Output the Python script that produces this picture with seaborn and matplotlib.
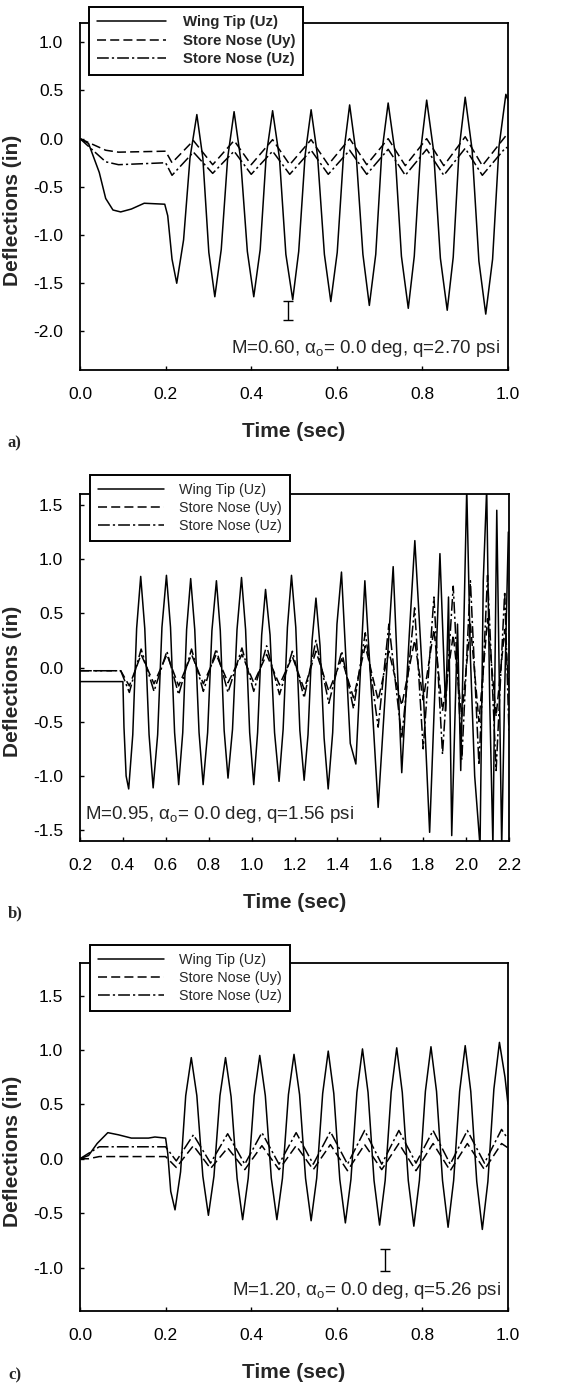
import numpy as np
import pandas as pd
import matplotlib
matplotlib.use("Agg")
import matplotlib.pyplot as plt
import seaborn as sns

sns.set_style("ticks")
plt.rcParams['font.family'] = ['Liberation Sans', 'DejaVu Sans']
plt.rcParams['axes.unicode_minus'] = False
plt.rcParams['lines.scale_dashes'] = False
plt.rcParams['mathtext.fontset'] = 'custom'
plt.rcParams['mathtext.rm'] = 'Liberation Sans'
plt.rcParams['mathtext.it'] = 'Liberation Sans'

# ---------------- panel a: M=0.60 ----------------
a_wing_t = [0.0, 0.02, 0.045, 0.06, 0.077, 0.095, 0.12, 0.15, 0.198, 0.205, 0.215, 0.226,
            0.242, 0.257, 0.273, 0.287, 0.301, 0.315, 0.33, 0.345, 0.36, 0.375, 0.391, 0.406,
            0.421, 0.435, 0.45, 0.466, 0.481, 0.497, 0.511, 0.526, 0.54, 0.555, 0.571, 0.586,
            0.601, 0.616, 0.63, 0.645, 0.661, 0.676, 0.691, 0.705, 0.72, 0.736, 0.751, 0.767,
            0.781, 0.796, 0.81, 0.826, 0.842, 0.858, 0.872, 0.886, 0.90, 0.916, 0.932, 0.948,
            0.964, 0.979, 0.995, 1.0]
a_wing = [0.0, -0.05, -0.35, -0.62, -0.74, -0.76, -0.73, -0.67, -0.68, -0.80, -1.25, -1.50,
          -1.05, -0.20, 0.25, -0.20, -1.18, -1.64, -1.15, -0.20, 0.28, -0.20, -1.17, -1.64,
          -1.15, -0.18, 0.29, -0.20, -1.20, -1.67, -1.17, -0.17, 0.30, -0.18, -1.20, -1.69,
          -1.18, -0.15, 0.35, -0.15, -1.20, -1.73, -1.20, -0.15, 0.37, -0.14, -1.22, -1.76,
          -1.22, -0.12, 0.40, -0.12, -1.24, -1.78, -1.23, -0.10, 0.43, -0.11, -1.27, -1.82,
          -1.25, -0.08, 0.46, 0.40]
a_store_t = [0.0, 0.03, 0.06, 0.09, 0.2, 0.215, 0.265, 0.31, 0.36, 0.40, 0.45, 0.49, 0.54,
             0.58, 0.63, 0.67, 0.72, 0.76, 0.81, 0.85, 0.90, 0.94, 0.995, 1.0]
a_store_uy = [0.0, -0.06, -0.12, -0.14, -0.13, -0.25, -0.02, -0.27, -0.02, -0.27, -0.01,
              -0.27, -0.01, -0.27, 0.0, -0.27, 0.0, -0.28, 0.0, -0.28, 0.02, -0.28, 0.03, 0.02]
a_store_uz = [0.0, -0.12, -0.24, -0.27, -0.25, -0.38, -0.14, -0.36, -0.13, -0.37, -0.13,
              -0.37, -0.12, -0.37, -0.12, -0.37, -0.11, -0.38, -0.11, -0.38, -0.10, -0.38,
              -0.09, -0.10]

# ---------------- panel b: M=0.95 ----------------
b_wing_t = [0.2, 0.40, 0.405, 0.415, 0.427, 0.446, 0.464, 0.483, 0.502, 0.522, 0.541, 0.562,
            0.582, 0.603, 0.622, 0.641, 0.66, 0.679, 0.697, 0.716, 0.735, 0.755, 0.774, 0.795,
            0.815, 0.836, 0.854, 0.872, 0.89, 0.911, 0.932, 0.953, 0.972, 0.991, 1.01, 1.028,
            1.047, 1.065, 1.086, 1.107, 1.128, 1.147, 1.167, 1.186, 1.206, 1.225, 1.245, 1.263,
            1.282, 1.30, 1.319, 1.338, 1.357, 1.378, 1.398, 1.419, 1.46, 1.486, 1.528, 1.59,
            1.66, 1.70, 1.735, 1.761, 1.80, 1.83, 1.878, 1.905, 1.918, 1.933, 1.96, 1.975,
            2.003, 2.02, 2.04, 2.065, 2.08, 2.096, 2.11, 2.125, 2.143, 2.166, 2.18, 2.197]
b_wing = [-0.13, -0.13, -0.55, -1.00, -1.12, -0.62, 0.36, 0.84, 0.36, -0.62, -1.11, -0.62,
          0.37, 0.85, 0.37, -0.60, -1.08, -0.60, 0.35, 0.82, 0.35, -0.60, -1.08, -0.60,
          0.34, 0.80, 0.34, -0.58, -1.02, -0.57, 0.35, 0.83, 0.35, -0.60, -1.08, -0.60,
          0.30, 0.72, 0.30, -0.60, -1.05, -0.57, 0.37, 0.85, 0.37, -0.58, -1.04, -0.62,
          0.25, 0.64, 0.20, -0.65, -1.12, -0.60, 0.40, 0.88, -0.70, -0.89, 0.80, -1.29,
          0.93, -0.97, 0.30, 1.17, -0.20, -1.52, 1.05, -0.40, 0.65, -1.55, 0.40, -0.95,
          1.65, 0.10, -1.00, -1.65, 0.80, 1.65, -0.30, -1.65, 1.45, -1.65, -0.20, 1.25]
b_store_t = [0.2, 0.39, 0.43, 0.485, 0.545, 0.605, 0.66, 0.72, 0.775, 0.835, 0.89, 0.955,
             1.01, 1.07, 1.13, 1.19, 1.245, 1.30, 1.36, 1.42, 1.475, 1.53, 1.59, 1.64, 1.70,
             1.76, 1.80, 1.85, 1.89, 1.94, 1.98, 2.02, 2.06, 2.10, 2.14, 2.18, 2.2]
b_store_uy = [-0.03, -0.03, -0.17, 0.12, -0.15, 0.12, -0.17, 0.12, -0.15, 0.12, -0.14, 0.12,
              -0.14, 0.12, -0.16, 0.10, -0.20, 0.15, -0.22, 0.08, -0.28, 0.20, -0.30, 0.15,
              -0.35, 0.25, -0.30, 0.35, -0.40, 0.30, -0.45, 0.40, -0.50, 0.45, -0.45, 0.35, -0.20]
b_store_uz = [-0.03, -0.03, -0.23, 0.17, -0.22, 0.15, -0.25, 0.17, -0.22, 0.17, -0.23, 0.18,
              -0.22, 0.20, -0.25, 0.15, -0.28, 0.25, -0.33, 0.15, -0.38, 0.32, -0.55, 0.40,
              -0.65, 0.55, -0.75, 0.65, -0.80, 0.75, -0.85, 0.80, -0.90, 0.85, -0.95, 0.70, -0.60]

# ---------------- panel c: M=1.20 ----------------
c_wing_t = [0.0, 0.02, 0.04, 0.065, 0.09, 0.12, 0.16, 0.175, 0.2, 0.205, 0.212, 0.222,
            0.235, 0.247, 0.26, 0.273, 0.287, 0.30, 0.313, 0.327, 0.34, 0.353, 0.367, 0.38,
            0.393, 0.407, 0.42, 0.433, 0.447, 0.46, 0.473, 0.487, 0.50, 0.513, 0.527, 0.54,
            0.553, 0.567, 0.58, 0.593, 0.607, 0.62, 0.633, 0.647, 0.66, 0.673, 0.687, 0.70,
            0.713, 0.727, 0.74, 0.753, 0.767, 0.78, 0.793, 0.807, 0.82, 0.833, 0.847, 0.86,
            0.873, 0.887, 0.90, 0.913, 0.927, 0.94, 0.953, 0.967, 0.98, 0.993, 1.0]
c_wing = [0.0, 0.03, 0.14, 0.24, 0.22, 0.19, 0.19, 0.20, 0.19, 0.05, -0.30, -0.47,
          -0.12, 0.58, 0.93, 0.58, -0.16, -0.52, -0.16, 0.58, 0.93, 0.57, -0.18, -0.56,
          -0.18, 0.58, 0.95, 0.58, -0.18, -0.56, -0.18, 0.59, 0.96, 0.59, -0.18, -0.57,
          -0.18, 0.60, 0.99, 0.60, -0.19, -0.59, -0.19, 0.61, 1.01, 0.61, -0.20, -0.61,
          -0.20, 0.61, 1.02, 0.61, -0.20, -0.62, -0.20, 0.62, 1.03, 0.62, -0.20, -0.63,
          -0.20, 0.62, 1.04, 0.62, -0.21, -0.65, -0.21, 0.64, 1.07, 0.75, 0.50]
c_store_t = [0.0, 0.02, 0.045, 0.2, 0.225, 0.265, 0.305, 0.345, 0.385, 0.425, 0.465, 0.505,
             0.545, 0.585, 0.625, 0.665, 0.705, 0.745, 0.785, 0.825, 0.865, 0.905, 0.945,
             0.985, 1.0]
c_store_uy = [0.0, 0.0, 0.02, 0.02, -0.08, 0.12, -0.09, 0.10, -0.10, 0.12, -0.10, 0.12,
              -0.10, 0.13, -0.11, 0.13, -0.10, 0.14, -0.11, 0.14, -0.11, 0.14, -0.10, 0.14, 0.10]
c_store_uz = [0.0, 0.05, 0.11, 0.11, -0.02, 0.22, -0.04, 0.23, -0.05, 0.24, -0.05, 0.24,
              -0.05, 0.25, -0.05, 0.26, -0.05, 0.26, -0.04, 0.26, -0.05, 0.26, -0.04, 0.27, 0.18]

series_names = ["Wing Tip (Uz)", "Store Nose (Uy)", "Store Nose (Uz)"]

W, H = 574, 1393
fig = plt.figure(figsize=(W / 100, H / 100), dpi=100)


def px_axes(left, top, right, bottom):
    return fig.add_axes([left / W, 1 - bottom / H, (right - left) / W, (bottom - top) / H])


dash = (0, (6.5, 3))
dashdot = (0, (8.5, 2.2, 1.6, 2.2))


def panel(ax, wt, wing, st, uy, uz, xlim, ylim, yticks, xticks, bold_legend, leg_anchor,
          note, note_pos, note_ha, errbar=None):
    sns.lineplot(x=wt, y=wing, ax=ax, color='k', lw=1.1, estimator=None, sort=False,
                 label=series_names[0])
    sns.lineplot(x=st, y=uy, ax=ax, color='k', lw=1.1, estimator=None, sort=False,
                 linestyle=dash, label=series_names[1])
    sns.lineplot(x=st, y=uz, ax=ax, color='k', lw=1.1, estimator=None, sort=False,
                 linestyle=dashdot, label=series_names[2])
    ax.set_xlim(*xlim)
    ax.set_ylim(*ylim)
    ax.set_xticks(xticks)
    ax.set_yticks(yticks)
    ax.set_xticklabels([f"{v:.1f}" for v in xticks])
    ax.set_yticklabels([f"{v:.1f}" for v in yticks])
    ax.tick_params(direction='in', length=3, width=1, labelsize=12.5, pad=12, colors='k')
    for s in ax.spines.values():
        s.set_color('k')
        s.set_linewidth(1.3)
    ax.set_xlabel("Time (sec)", fontsize=15, fontweight='bold')
    ax.set_ylabel("Deflections (in)", fontsize=15, fontweight='bold')
    ax.xaxis.set_label_coords(0.5, -0.15)
    ax.yaxis.set_label_coords(-0.135, 0.46)
    if errbar is not None:
        ax.errorbar([errbar[0]], [errbar[1]], yerr=[errbar[2]], color='k', lw=1,
                    capsize=3.5, capthick=1)
    ax.text(note_pos[0], note_pos[1], note, transform=ax.transAxes, fontsize=13.5,
            ha=note_ha, va='center')
    leg = ax.legend(loc='upper left', bbox_to_anchor=leg_anchor, borderaxespad=0,
                    frameon=True, fancybox=False, framealpha=1, edgecolor='k',
                    handlelength=4.6, handletextpad=1.1, labelspacing=0.3, borderpad=0.55,
                    prop={'size': 10.8 if bold_legend else 10.3,
                          'weight': 'bold' if bold_legend else 'normal'})
    leg.get_frame().set_linewidth(1.4)
    ax.set_facecolor('white')


ax_a = px_axes(80, 23, 508, 370)
panel(ax_a, a_wing_t, a_wing, a_store_t, a_store_uy, a_store_uz, (0, 1), (-2.4, 1.2),
      np.arange(-2.0, 1.01, 0.5), np.arange(0, 1.01, 0.2), True, (0.021, 1.046),
      r"M=0.60, $\mathrm{\alpha_o}$= 0.0 deg, q=2.70 psi", (0.981, 0.063), 'right',
      errbar=(0.487, -1.78, 0.10))

ax_b = px_axes(80, 494, 509, 841)
panel(ax_b, b_wing_t, b_wing, b_store_t, b_store_uy, b_store_uz, (0.2, 2.2), (-1.6, 1.6),
      np.arange(-1.5, 1.51, 0.5), np.arange(0.2, 2.21, 0.2), False, (0.023, 1.055),
      r"M=0.95, $\mathrm{\alpha_o}$= 0.0 deg, q=1.56 psi", (0.012, 0.075), 'left')

ax_c = px_axes(80, 963, 508, 1311)
panel(ax_c, c_wing_t, c_wing, c_store_t, c_store_uy, c_store_uz, (0, 1), (-1.4, 1.8),
      np.arange(-1.0, 1.51, 0.5), np.arange(0, 1.01, 0.2), False, (0.023, 1.052),
      r"M=1.20, $\mathrm{\alpha_o}$= 0.0 deg, q=5.26 psi", (0.985, 0.06), 'right',
      errbar=(0.713, -0.93, 0.10))

for lab, ypx in [("a)", 443), ("b)", 913), ("c)", 1375)]:
    fig.text(8 / W, 1 - ypx / H, lab, fontsize=12, fontweight='bold',
             fontfamily='Liberation Serif', va='center')

fig.savefig("out.png", dpi=100, facecolor='white')
